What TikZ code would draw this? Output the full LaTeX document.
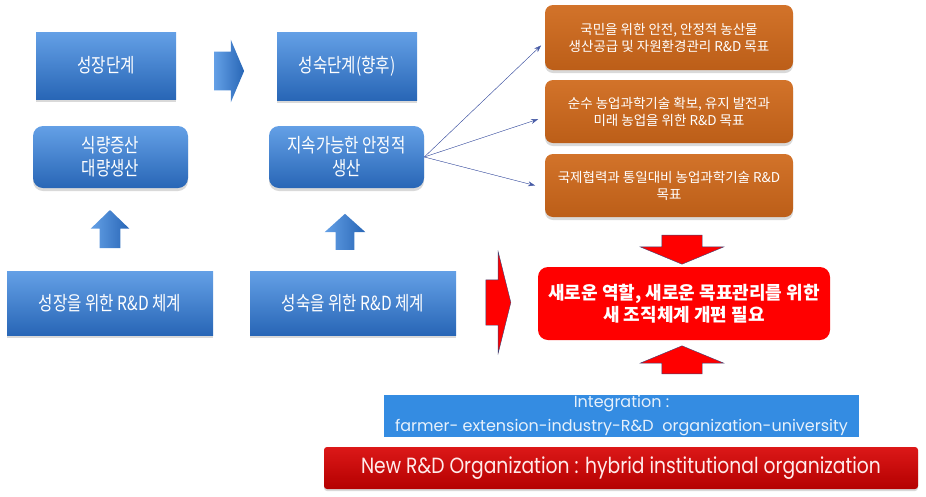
\documentclass[tikz,border=0pt]{standalone}
\usepackage{fontspec}
\usepackage{tikz}
\usetikzlibrary{arrows, arrows.meta, shapes.arrows, shadows}
\newfontfamily\kr{Noto Sans CJK KR}
\newfontfamily\krn{Noto Sans CJK KR}[FakeStretch=0.8]
\newfontfamily\lat{Poppins}
\newfontfamily\latn{Poppins}[FakeStretch=0.85]
\definecolor{bluetop}{RGB}{100,160,230}
\definecolor{bluebot}{RGB}{40,102,182}
\definecolor{orangetop}{RGB}{210,115,42}
\definecolor{orangebot}{RGB}{188,94,24}
\definecolor{redbox}{RGB}{255,0,0}
\definecolor{redline}{RGB}{60,68,118}
\definecolor{integblue}{RGB}{52,140,226}
\definecolor{hybridtop}{RGB}{220,24,24}
\definecolor{hybridbot}{RGB}{180,0,0}
\definecolor{linkblue}{RGB}{70,90,165}

\begin{document}
\begin{tikzpicture}[x=1pt,y=-1pt,>=stealth',semithick,
    stage/.style={rectangle, top color=bluetop, bottom color=bluebot, text=white,
      align=center, font=\krn\fontsize{19.5}{23}\selectfont,
      drop shadow={opacity=0.3,shadow xshift=0pt,shadow yshift=-3pt}},
    goal/.style={rectangle, rounded corners=8pt, top color=orangetop, bottom color=orangebot,
      text=white, align=center, font=\kr\fontsize{13.5}{17}\selectfont,
      minimum width=248pt, minimum height=63pt,
      drop shadow={opacity=0.3,shadow xshift=0pt,shadow yshift=-3pt}},
    bluearrow/.style={single arrow, left color=bluetop, right color=bluebot, inner xsep=0pt},
    redarrow/.style={single arrow, fill=redbox, draw=redline, thin, inner xsep=0pt},
    link/.style={-{Stealth[length=7pt,width=5pt]}, draw=linkblue, fill=linkblue, thin}]
  \useasboundingbox (0,0) rectangle (926,496);
  % stages
  \node[stage, minimum width=140pt, minimum height=67pt] (grow)   at (106,65.5) {성장단계};
  \node[stage, minimum width=140pt, minimum height=68pt] (mature) at (347,66)   {성숙단계(향후)};
  \node[stage, rounded corners=10pt, minimum width=155pt, minimum height=62pt] (food)    at (110.5,157) {식량증산\\대량생산};
  \node[stage, rounded corners=10pt, minimum width=155pt, minimum height=62pt] (sustain) at (346.5,157) {지속가능한 안정적\\생산};
  \node[stage, minimum width=206pt, minimum height=64pt] (rdgrow)   at (110,303) {성장을 위한 R\&D 체계};
  \node[stage, minimum width=206pt, minimum height=64pt] (rdmature) at (353,303) {성숙을 위한 R\&D 체계};
  % goals
  \node[goal, minimum height=65pt] (goal1) at (669,37.5)  {국민을 위한 안전, 안정적 농산물\\생산공급 및 자원환경관리 R\&D 목표};
  \node[goal] (goal2) at (669,111.5) {순수 농업과학기술 확보, 유지 발전과\\미래 농업을 위한 R\&D 목표};
  \node[goal] (goal3) at (669,185.5) {국제협력과 통일대비 농업과학기술 R\&D\\목표};
  % new organization
  \node[rectangle, rounded corners=10pt, fill=redbox, text=white, align=center,
    font=\kr\bfseries\fontsize{18}{22}\selectfont, minimum width=292pt, minimum height=73pt]
    (neworg) at (684,303.5) {새로운 역할, 새로운 목표관리를 위한\\새 조직체계 개편 필요};
  \node[rectangle, fill=integblue, text=white!88!integblue, align=center, inner sep=0pt,
    font=\lat\fontsize{16}{24}\selectfont, minimum width=475pt, minimum height=42pt]
    (integ) at (621.5,416) {Integration :\\farmer- extension-industry-R\&D\ \ organization-university};
  \node[rectangle, rounded corners=3pt, top color=hybridtop, bottom color=hybridbot,
    text=white!92!red, font=\latn\fontsize{22}{24}\selectfont, minimum width=594pt, minimum height=42pt,
    drop shadow={opacity=0.3,shadow xshift=0pt,shadow yshift=-2pt}]
    (hybrid) at (621,468) {New R\&D Organization : hybrid institutional organization};
  % block arrows
  \node[bluearrow, inner ysep=19pt, single arrow head extend=12pt, single arrow tip angle=134, minimum height=30pt] (arrA) at (225,71) {};
  \node[bluearrow, rotate=90, inner ysep=10pt, single arrow head extend=9pt, single arrow tip angle=92, minimum height=38pt] (upA) at (110,234) {};
  \node[bluearrow, rotate=90, inner ysep=9pt, single arrow head extend=11pt, single arrow tip angle=96, minimum height=36pt] (upB) at (345,236) {};
  \node[redarrow, rotate=-90, inner ysep=20pt, single arrow head extend=21.5pt, single arrow tip angle=135, minimum height=29pt] (dnR) at (682,245.5) {};
  \node[redarrow, rotate=90, inner ysep=20pt, single arrow head extend=21.5pt, single arrow tip angle=135, minimum height=28pt] (upR) at (682,364) {};
  \node[redarrow, inner ysep=22.5pt, single arrow head extend=28pt, single arrow tip angle=152, minimum height=25pt] (rtR) at (495.5,302.5) {};
  % links to goals
  \draw[link, shorten >=5pt]  (sustain.east) -- ([yshift=-4.5pt]goal1.west);
  \draw[link, shorten >=7pt]  (sustain.east) -- ([yshift=-5.5pt]goal2.west);
  \draw[link, shorten >=10pt] (sustain.east) -- ([yshift=-2.5pt]goal3.west);
\end{tikzpicture}
\end{document}
